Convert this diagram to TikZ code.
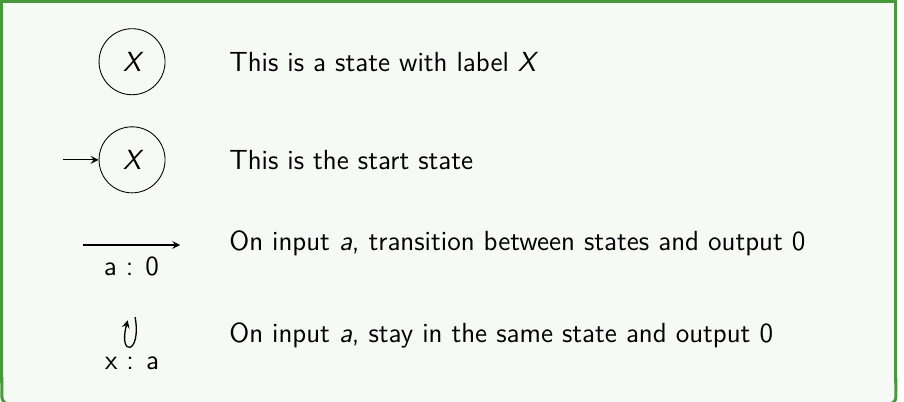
\documentclass[tikz,border=0pt]{standalone}
\usetikzlibrary{positioning}
\definecolor{framegreen}{RGB}{74,152,62}
\definecolor{backgreen}{RGB}{245,250,244}
\tikzset{>=stealth}
\tikzset{state/.style={draw, circle, minimum size=1.07cm, inner sep=0pt},
    legend/.style={anchor=west, inner sep=0pt}}

\begin{document}
\begin{tikzpicture}[font=\sffamily\fontsize{12.75pt}{15pt}\selectfont]
    \useasboundingbox (0,0) rectangle (14.65,6.51);
    % frame
    \fill[backgreen] (0.03,-0.04) rectangle (14.52,6.49);
    \draw[framegreen, line width=1.4pt] (0.03,0.3) -- (0.03,6.49) -- (14.52,6.49) -- (14.52,0.3);
    \draw[framegreen, line width=1.4pt, rounded corners=0.12cm] (0.03,0.4) -- (0.03,-0.04) -- (14.52,-0.04) -- (14.52,0.4);
    % states
    \node[state] (sLabel) at (2.14,5.51) {\itshape X};
    \node[state] (sStart) at (2.14,3.92) {\itshape X};
    \coordinate (startIn) at (1.02,3.92);
    \draw[->, semithick] (startIn) -- (sStart);
    % transition
    \coordinate (transA) at (1.34,2.54);
    \coordinate (transB) at (2.92,2.54);
    \draw[->, semithick] (transA) -- (transB) node[midway, below=2pt] (transLabel) {a : 0};
    % self loop
    \coordinate (loopOut) at (2.19,1.37);
    \coordinate (loopIn) at (2.07,1.32);
    \draw[->, semithick] (loopOut) to[out=-80, in=-105, distance=0.62cm] (loopIn);
    \node (loopLabel) at (2.14,0.63) {x : a};
    % legend texts
    \node[legend] (tLabel) at (3.71,5.51) {This is a state with label \textit{X}};
    \node[legend] (tStart) at (3.71,3.92) {This is the start state};
    \node[legend] (tTrans) at (3.71,2.56) {On input \textit{a}, transition between states and output 0};
    \node[legend] (tLoop) at (3.71,1.07) {On input \textit{a}, stay in the same state and output 0};
\end{tikzpicture}
\end{document}
